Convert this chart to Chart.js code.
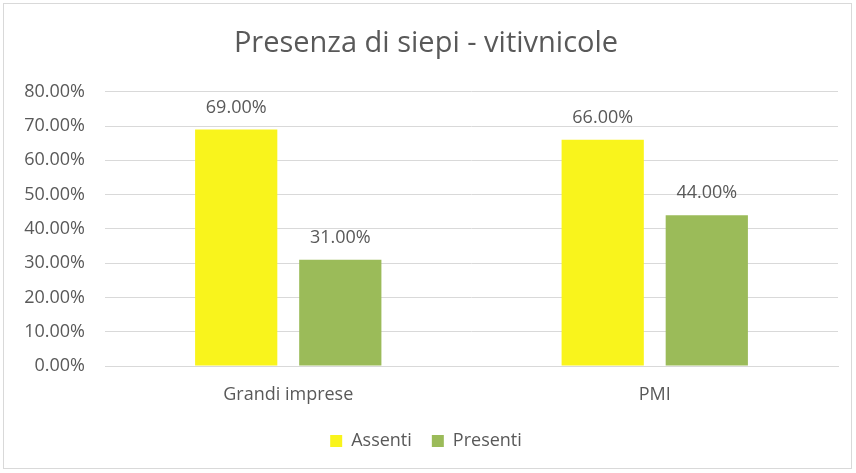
<!DOCTYPE html>
<html>
<head>
<meta charset="utf-8">
<script src="https://cdn.jsdelivr.net/npm/chart.js@4"></script>
<style>
  html, body { margin: 0; padding: 0; background: #fff; }
  #wrap { position: absolute; left: 3px; top: 3px; width: 849px; height: 466px; border: 1px solid #D9D9D9; box-sizing: border-box; }
  canvas { display: block; }
</style>
</head>
<body>
<div id="wrap"><canvas id="c"></canvas></div>
<script>
const categories = ['Grandi imprese', 'PMI'];
const assenti = [69, 66];
const presenti = [31, 44];
const yTicks = [0, 10, 20, 30, 40, 50, 60, 70, 80];

const font = "'Open Sans', 'Noto Sans', sans-serif";
const grey = '#595959';

// draws the value above each bar
const barLabels = {
    id: 'barLabels',
    afterDatasetsDraw(chart) {
        const ctx = chart.ctx;
        ctx.save();
        ctx.font = '18px ' + font;
        ctx.fillStyle = grey;
        ctx.textAlign = 'center';
        ctx.textBaseline = 'middle';
        chart.data.datasets.forEach((ds, i) => {
            chart.getDatasetMeta(i).data.forEach((bar, j) => {
                ctx.fillText(ds.data[j].toFixed(2) + '%', bar.x, bar.y - 22);
            });
        });
        ctx.restore();
    }
};

new Chart(document.getElementById('c'), {
    type: 'bar',
    data: {
        labels: categories,
        datasets: [{
            label: 'Assenti',
            data: assenti,
            backgroundColor: '#F9F41C'
        }, {
            label: 'Presenti',
            data: presenti,
            backgroundColor: '#9BBB59'
        }]
    },
    options: {
        responsive: true,
        maintainAspectRatio: false,
        animation: false,
        categoryPercentage: 0.568,
        barPercentage: 0.79,
        layout: { padding: { left: 10, right: 13, top: 0, bottom: 8 } },
        scales: {
            x: {
                afterFit(axis) { axis.height = 46; },
                grid: { display: false, drawTicks: false },
                border: { color: '#D9D9D9' },
                ticks: { color: grey, font: { size: 18, family: font }, padding: 18 }
            },
            y: {
                min: 0,
                max: 80,
                afterBuildTicks(axis) { axis.ticks = yTicks.map(v => ({ value: v })); },
                afterFit(axis) { axis.width = 91; },
                grid: { color: '#D9D9D9', drawTicks: false },
                border: { display: false },
                ticks: {
                    color: grey,
                    padding: 20,
                    font: { size: 18, family: font },
                    callback: v => v.toFixed(2) + '%'
                }
            }
        },
        plugins: {
            title: {
                display: true,
                text: 'Presenza di siepi - vitivnicole',
                color: grey,
                font: { size: 29, family: font, weight: 'normal' },
                padding: { top: 22, bottom: 31 }
            },
            legend: {
                position: 'bottom',
                labels: {
                    color: grey,
                    font: { size: 18, family: font },
                    boxWidth: 12,
                    boxHeight: 12,
                    padding: 20
                }
            },
            tooltip: { enabled: false }
        }
    },
    plugins: [barLabels]
});
</script>
</body>
</html>
